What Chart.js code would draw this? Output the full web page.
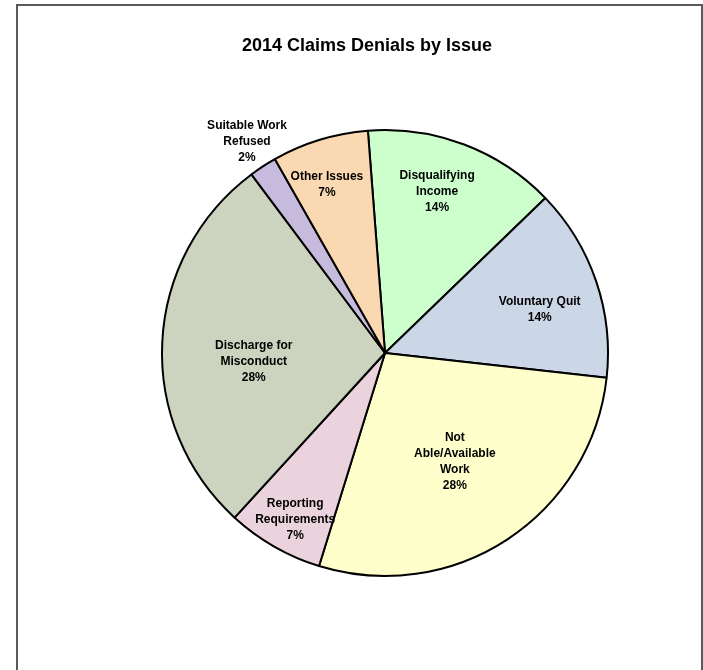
<!DOCTYPE html>
<html>
<head>
<meta charset="utf-8">
<script src="https://cdn.jsdelivr.net/npm/chart.js@4.4.1/dist/chart.umd.min.js"></script>
<style>
  body { margin: 0; background: #fff; }
  .wrap { position: relative; width: 703px; height: 670px; overflow: hidden; }
  .frame { position: absolute; left: 16px; top: 4px; width: 683px; height: 700px; border: 2px solid #5a5a5a; }
  canvas { position: absolute; left: 0; top: 0; }
</style>
</head>
<body>
<div class="wrap">
  <div class="frame"></div>
  <canvas id="denialChart" width="703" height="670"></canvas>
</div>
<script>
const chartTitle = '2014 Claims Denials by Issue';
const categories = [
  ['Disqualifying', 'Income'],
  ['Voluntary Quit'],
  ['Not', 'Able/Available', 'Work'],
  ['Reporting', 'Requirements'],
  ['Discharge for', 'Misconduct'],
  ['Suitable Work', 'Refused'],
  ['Other Issues']
];
const denialShares = [14, 14, 28, 7, 28, 2, 7];

const sliceColors = ['#ccffcc', '#cbd6e6', '#ffffcc', '#ebd3dd', '#ccd3be', '#c6badd', '#fad8b2'];
// label placement: fraction of radius, and angle nudge in degrees
const labelRadius = [0.76, 0.72, 0.58, 0.85, 0.59, 1.13, 0.80];
const labelShift = [-2.9, 3.3, 0.5, -1.5, -6.7, 0, -2];

const ctx = document.getElementById('denialChart').getContext('2d');

const labelPlugin = {
  id: 'sliceLabels',
  afterDatasetsDraw(chart) {
    const c = chart.ctx;
    const meta = chart.getDatasetMeta(0);
    const total = denialShares.reduce((a, b) => a + b, 0);

    c.save();
    c.fillStyle = '#000';
    c.textAlign = 'center';
    c.textBaseline = 'middle';

    c.font = 'bold 18px "Liberation Sans", Arial, sans-serif';
    c.fillText(chartTitle, 367, 46);

    c.font = 'bold 12px "Liberation Sans", Arial, sans-serif';
    meta.data.forEach((arc, i) => {
      const mid = (arc.startAngle + arc.endAngle) / 2 + labelShift[i] * Math.PI / 180;
      const r = arc.outerRadius * labelRadius[i];
      const x = arc.x + Math.cos(mid) * r;
      const y = arc.y + Math.sin(mid) * r;
      const lines = categories[i].concat([Math.round(denialShares[i] / total * 100) + '%']);
      const lh = 16;
      const top = y - (lines.length - 1) * lh / 2;
      lines.forEach((t, k) => c.fillText(t, x, top + k * lh));
    });
    c.restore();
  }
};

new Chart(ctx, {
  type: 'pie',
  data: {
    labels: categories.map(l => l.join(' ')),
    datasets: [{
      data: denialShares,
      backgroundColor: sliceColors,
      borderColor: '#000',
      borderWidth: 2
    }]
  },
  options: {
    responsive: false,
    animation: false,
    rotation: -4.4,
    layout: { padding: { left: 161, right: 94, top: 129, bottom: 93 } },
    plugins: {
      legend: { display: false },
      title: { display: false },
      tooltip: { enabled: false }
    }
  },
  plugins: [labelPlugin]
});
</script>
</body>
</html>
